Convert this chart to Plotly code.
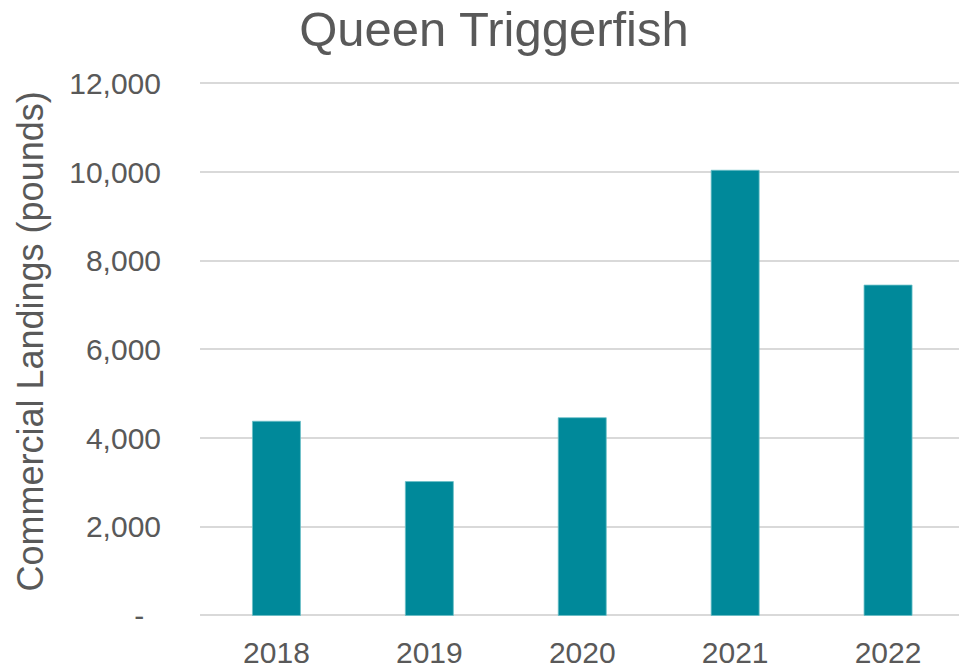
import plotly.graph_objects as go

years = ["2018", "2019", "2020", "2021", "2022"]
landings = [4380, 3020, 4460, 10040, 7450]

y_tick_vals = [0, 2000, 4000, 6000, 8000, 10000, 12000]
y_tick_text = ["-\u00a0\u00a0", "2,000", "4,000", "6,000", "8,000", "10,000", "12,000"]

FONT = "Liberation Sans, Arial, sans-serif"
GRAY = "#595959"

W, H = 959, 669
ML, MT, MB = 200, 82, 50
plot_h = H - MT - MB

fig = go.Figure(
    go.Bar(
        x=years,
        y=landings,
        width=0.314,
        marker=dict(color="#00899A", line=dict(color="#6cc0c8", width=0.8)),
    )
)

fig.update_layout(
    width=W,
    height=H,
    margin=dict(l=ML, r=0, t=MT, b=MB, pad=0),
    paper_bgcolor="white",
    plot_bgcolor="white",
    showlegend=False,
    font=dict(family=FONT, color=GRAY),
    title=dict(
        text="Queen Triggerfish",
        font=dict(family=FONT, size=49, color=GRAY),
        x=494 / W,
        xanchor="center",
        xref="container",
        y=1 - 29 / H,
        yanchor="middle",
        yref="container",
    ),
    xaxis=dict(
        type="category",
        range=[-0.5, 4.464],
        showgrid=False,
        showline=False,
        zeroline=False,
        ticks="",
        tickfont=dict(family=FONT, size=30, color=GRAY),
        ticklabelstandoff=16,
    ),
    yaxis=dict(
        range=[-12, 12030],
        tickvals=y_tick_vals,
        ticktext=y_tick_text,
        showgrid=True,
        gridcolor="#d9d9d9",
        gridwidth=1.5,
        zeroline=True,
        zerolinecolor="#d9d9d9",
        zerolinewidth=1.5,
        showline=False,
        ticks="",
        tickfont=dict(family=FONT, size=30, color=GRAY),
        ticklabelstandoff=38,
    ),
    annotations=[
        dict(
            text="Commercial Landings (pounds)",
            textangle=-90,
            font=dict(family=FONT, size=36, color=GRAY),
            xref="paper",
            yref="paper",
            x=(31 - ML) / (W - ML),
            y=(H - MB - 343) / plot_h,
            xanchor="center",
            yanchor="middle",
            showarrow=False,
        )
    ],
)

fig.write_html(
    "out.html",
    config={"displayModeBar": False},
    post_script="document.body.style.margin='0';",
)
